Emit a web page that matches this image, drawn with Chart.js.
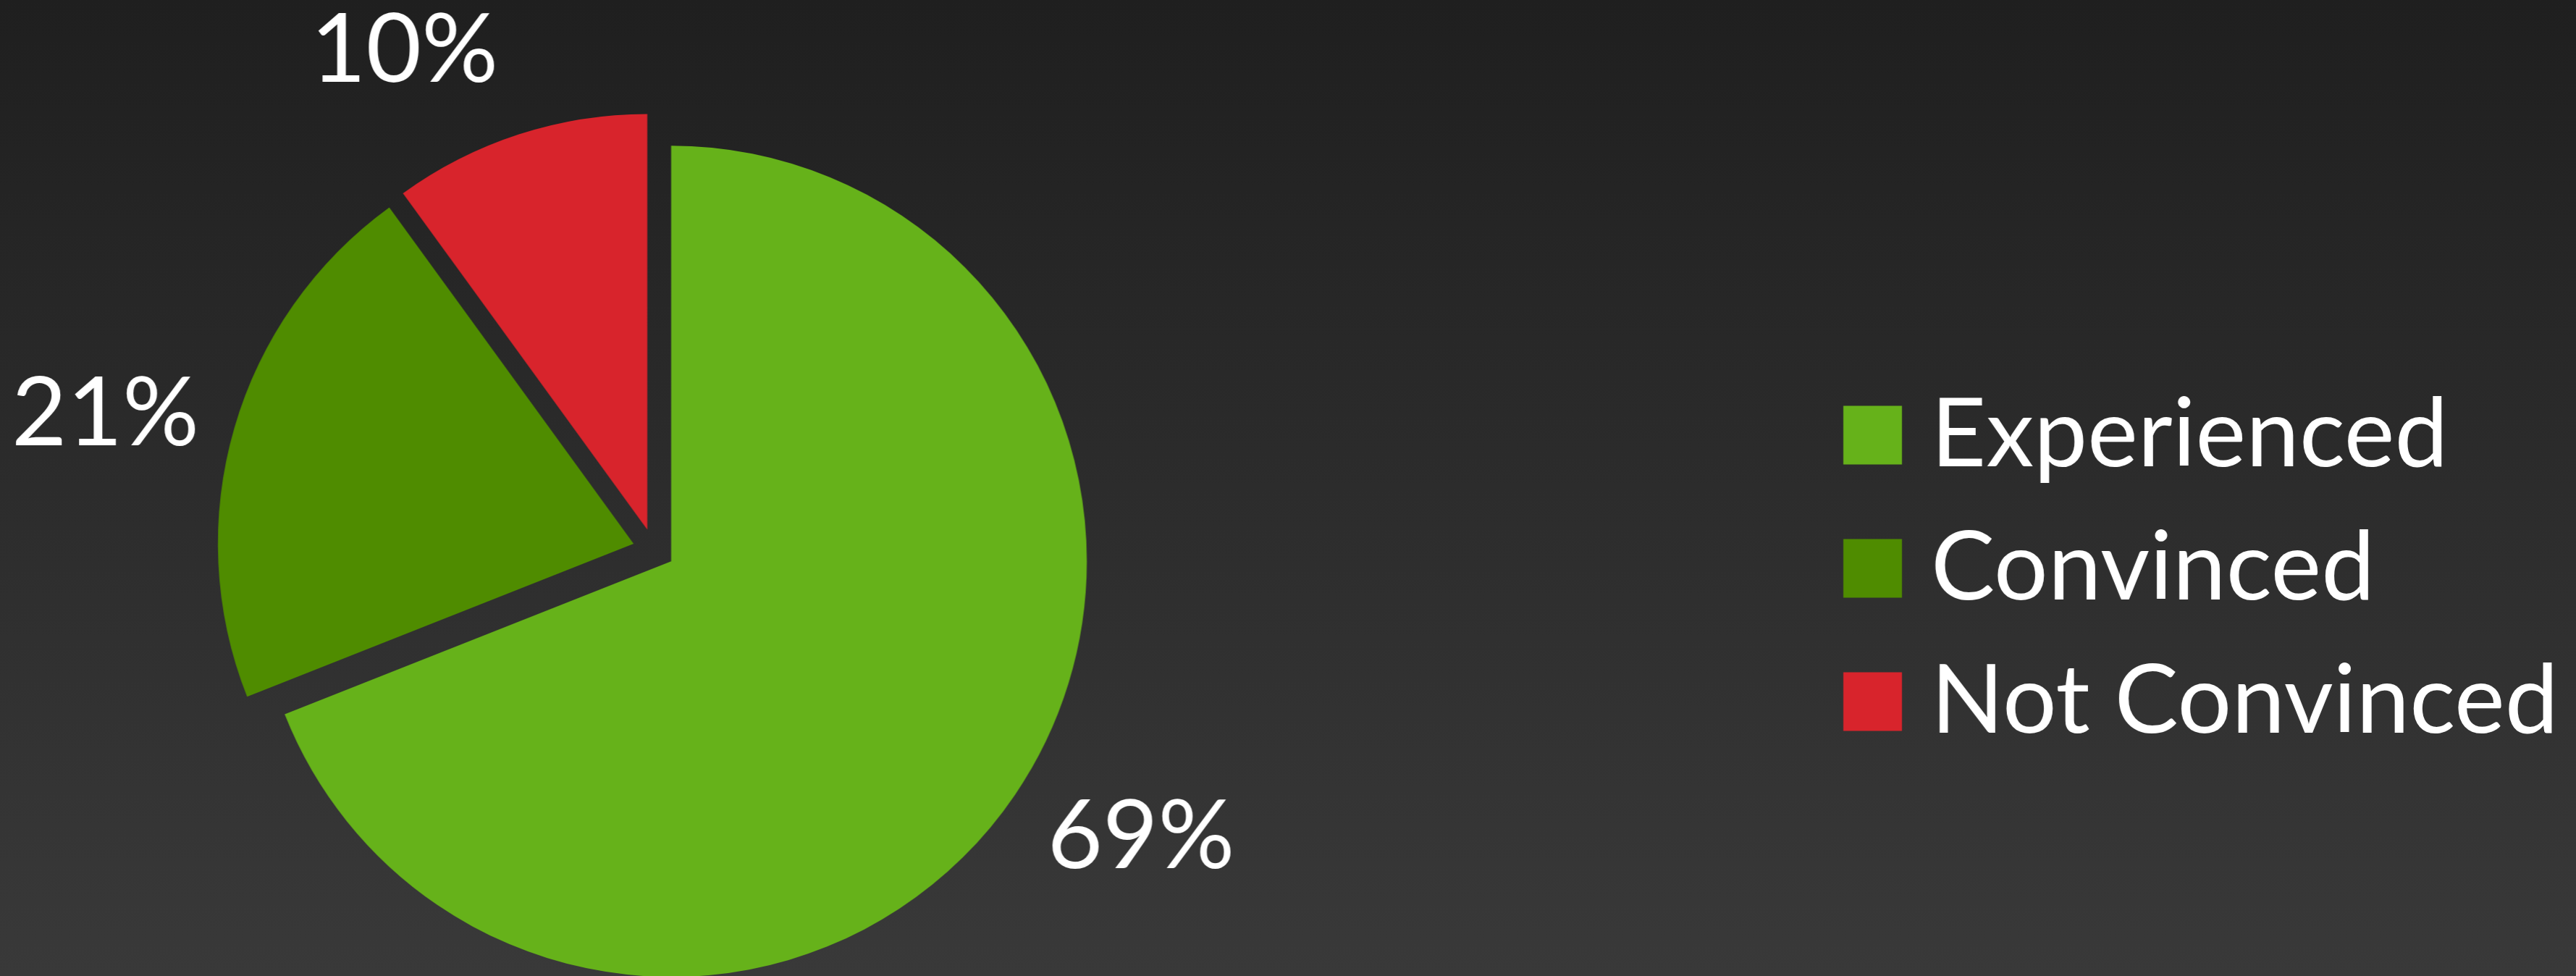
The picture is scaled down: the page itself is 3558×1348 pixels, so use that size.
<!DOCTYPE html>
<html><head><meta charset="utf-8">
<script src="https://cdn.jsdelivr.net/npm/chart.js@4.4.1/dist/chart.umd.min.js"></script>
<style>
html,body{margin:0;padding:0;width:3558px;height:1348px;overflow:hidden;background:linear-gradient(to bottom,#1f1f1f 0%,#393939 100%);}
#wrap{position:absolute;left:0;top:0;width:3558px;height:1348px;}
</style></head><body>
<div id="wrap"><canvas id="c"></canvas></div>
<script>
// ---- data ----
const categories = ['Experienced', 'Convinced', 'Not Convinced'];
const values = [69, 21, 10];
const colors = ['#66b21a', '#4f8c00', '#d8242c'];

// ---- layout / style ----
const W = 3558, H = 1348;
const FONT = 'Lato, "Open Sans", sans-serif';
const LEG_F = 132, LAB_F = 132;
const R = 574, EXPLODE = 29;
const CX = 903, CY = 759;
const BOX = 29, BOX_LW = 52, LEG_PAD = 52, PAD_R = 15;
const LABEL_DIST_X = 634, LABEL_PAD_X = 19, LABEL_DIST_Y = 747, LABEL_PAD_Y = -22;

const mctx = document.createElement('canvas').getContext('2d');
mctx.font = LEG_F + 'px ' + FONT;
const tw = Math.max(...categories.map(t => mctx.measureText(t).width));
const legendW = LEG_PAD + BOX + LEG_F / 2 + tw + 10;
const legendLeft = W - PAD_R - legendW;
const shiftL = 2 * CX - legendLeft;      // canvas starts left of the page so the pie centre lands at CX
const padT = 2 * CY - H;
const wrap = document.getElementById('wrap');
wrap.style.left = shiftL + 'px';
wrap.style.width = (W - shiftL) + 'px';

// keep every exploded slice at the same radius with straight radial edges
const fixRadius = {
  id: 'fixRadius',
  afterDatasetsUpdate(chart) {
    chart.getDatasetMeta(0).data.forEach(a => {
      const o = (a.options.offset || 0) / 4;
      const fix = 1 - Math.sin(Math.min(Math.PI, a.circumference));
      const ro = o * fix;
      a.outerRadius = R - ro;
      const s = ro / (Math.PI * R) / 2;
      a.startAngle -= s;
      a.endAngle += s;
    });
  }
};

const pctLabels = {
  id: 'pctLabels',
  afterDatasetsDraw(chart) {
    const ctx = chart.ctx;
    const meta = chart.getDatasetMeta(0);
    const total = values.reduce((s, v) => s + v, 0);
    ctx.save();
    ctx.font = LAB_F + 'px ' + FONT;
    ctx.fillStyle = '#ffffff';
    ctx.textAlign = 'center';
    ctx.textBaseline = 'middle';
    meta.data.forEach((a, i) => {
      const mid = (a.startAngle + a.endAngle) / 2;
      const ux = Math.cos(mid), uy = Math.sin(mid);
      const txt = Math.round(values[i] / total * 100) + '%';
      const w = ctx.measureText(txt).width;
      const x = a.x + ux * LABEL_DIST_X + Math.sign(ux) * (w / 2 + LABEL_PAD_X);
      const y = a.y + uy * LABEL_DIST_Y + Math.sign(uy) * LABEL_PAD_Y;
      ctx.fillText(txt, x, y);
    });
    ctx.restore();
  }
};

new Chart(document.getElementById('c'), {
  type: 'pie',
  data: {
    labels: categories,
    datasets: [{
      data: values,
      backgroundColor: colors,
      borderWidth: 0,
      offset: EXPLODE * 4,
      hoverOffset: EXPLODE * 4,
      radius: R,
      clip: false
    }]
  },
  options: {
    responsive: true,
    maintainAspectRatio: false,
    animation: false,
    events: [],
    layout: { padding: { left: 0, right: PAD_R, top: padT, bottom: 0 } },
    plugins: {
      tooltip: { enabled: false },
      legend: {
        position: 'right',
        align: 'center',
        title: { display: true, text: ' ', font: { size: 10, lineHeight: 1.2 }, padding: { top: 20, bottom: 20 } },
        labels: {
          color: '#ffffff',
          font: { family: FONT, size: LEG_F },
          boxWidth: BOX,
          boxHeight: BOX,
          padding: LEG_PAD,
          generateLabels: () => categories.map((t, i) => ({
            text: t, fillStyle: colors[i], strokeStyle: colors[i],
            lineWidth: BOX_LW, lineJoin: 'miter', hidden: false, index: i, fontColor: '#ffffff'
          }))
        }
      }
    }
  },
  plugins: [fixRadius, pctLabels]
});
</script>
</body></html>
